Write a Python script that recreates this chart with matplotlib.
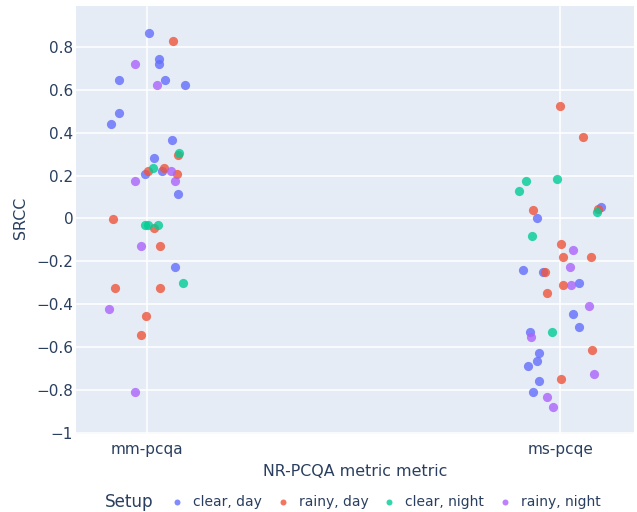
import matplotlib.pyplot as plt

# SRCC values per metric and setup
metrics = ["mm-pcqa", "ms-pcqe"]
setups = ["clear, day", "rainy, day", "clear, night", "rainy, night"]
colors = ["#636efa", "#EF553B", "#00cc96", "#ab63fa"]

mm_clear_day = [0.863, 0.743, 0.718, 0.645, 0.645, 0.620, 0.489, 0.439, 0.367, 0.283, 0.221, 0.209, 0.113, -0.225]
mm_rainy_day = [0.826, 0.296, 0.235, 0.221, 0.209, -0.004, -0.045, -0.130, -0.323, -0.323, -0.456, -0.541]
mm_clear_night = [0.307, 0.235, -0.032, -0.032, -0.032, -0.298]
mm_rainy_night = [0.718, 0.620, 0.221, 0.173, 0.173, -0.130, -0.419, -0.807]

ms_clear_day = [0.053, 0.003, -0.238, -0.249, -0.298, -0.443, -0.505, -0.527, -0.624, -0.661, -0.685, -0.757, -0.807]
ms_rainy_day = [0.525, 0.379, 0.044, 0.040, -0.117, -0.178, -0.178, -0.249, -0.310, -0.346, -0.612, -0.745]
ms_clear_night = [0.186, 0.173, 0.126, 0.028, -0.080, -0.527]
ms_rainy_night = [-0.148, -0.225, -0.310, -0.408, -0.551, -0.722, -0.830, -0.879]

# strip jitter (category units)
mm_jit_clear_day = [0.004, 0.028, 0.029, -0.068, 0.044, 0.093, -0.067, -0.088, 0.060, 0.016, 0.036, -0.006, 0.076, 0.067]
mm_jit_rainy_day = [0.063, 0.075, 0.041, 0.003, 0.073, -0.083, 0.016, 0.032, -0.077, 0.031, -0.003, -0.014]
mm_jit_clear_night = [0.077, 0.014, -0.005, 0.003, 0.026, 0.088]
mm_jit_rainy_night = [-0.028, 0.024, 0.057, -0.028, 0.067, -0.014, -0.093, -0.030]

ms_jit_clear_day = [0.099, -0.055, -0.090, -0.042, 0.047, 0.031, 0.045, -0.074, -0.052, -0.056, -0.078, -0.052, -0.065]
ms_jit_rainy_day = [0.000, 0.056, 0.091, -0.065, 0.002, 0.007, 0.075, -0.037, 0.008, -0.032, 0.077, 0.002]
ms_jit_clear_night = [-0.008, -0.082, -0.099, 0.090, -0.069, -0.019]
ms_jit_rainy_night = [0.031, 0.024, 0.027, 0.070, -0.071, 0.083, -0.031, -0.016]

mm_vals = [mm_clear_day, mm_rainy_day, mm_clear_night, mm_rainy_night]
ms_vals = [ms_clear_day, ms_rainy_day, ms_clear_night, ms_rainy_night]
mm_jit = [mm_jit_clear_day, mm_jit_rainy_day, mm_jit_clear_night, mm_jit_rainy_night]
ms_jit = [ms_jit_clear_day, ms_jit_rainy_day, ms_jit_clear_night, ms_jit_rainy_night]

txt = "#2a3f5f"
plt.rcParams['font.family'] = ['DejaVu Sans']

W, H = 637, 512
fig = plt.figure(figsize=(W / 100, H / 100), dpi=100)
ax = fig.add_axes([76 / W, 1 - 434 / H, 558 / W, 428 / H])
ax.set_facecolor("#E5ECF6")

for i, setup in enumerate(setups):
    xs = [0 + j for j in mm_jit[i]] + [1 + j for j in ms_jit[i]]
    ys = mm_vals[i] + ms_vals[i]
    ax.scatter(xs, ys, s=44, color=colors[i], alpha=0.8, linewidths=0,
               label=setup, zorder=3)

ax.set_xlim(-0.172, 1.179)
ax.set_ylim(-1.003, 0.989)
ax.set_xticks([0, 1])
ax.set_xticklabels(metrics)
yt = [0.8, 0.6, 0.4, 0.2, 0, -0.2, -0.4, -0.6, -0.8, -1]
ax.set_yticks(yt)
ax.set_yticklabels(["0.8", "0.6", "0.4", "0.2", "0", "\u22120.2", "\u22120.4", "\u22120.6", "\u22120.8", "\u22121"])
ax.grid(True, color="white", linewidth=1.1, zorder=0)
ax.set_axisbelow(True)
for sp in ax.spines.values():
    sp.set_visible(False)
ax.tick_params(length=0, labelsize=11, colors=txt)
ax.tick_params(axis='y', pad=2)
ax.tick_params(axis='x', pad=6)

ax.set_xlabel("NR-PCQA metric metric", fontsize=11.4, color=txt, va="center")
ax.xaxis.set_label_coords(0.5, -(472 - 434) / 428)
ax.set_ylabel("SRCC", fontsize=11.4, color=txt, va="center")
ax.yaxis.set_label_coords(-(76 - 20) / 558, 1 - (218 - 6) / 428)

# legend: title on the left, items in one row
fig.text(105 / W, 1 - 502 / H, "Setup", fontsize=12.1, color=txt, va="center", ha="left")
leg = fig.legend(loc="center left", bbox_to_anchor=(170 / W, 1 - 502 / H), ncol=4, frameon=False,
                 fontsize=10, handletextpad=0.65, columnspacing=1.0, markerscale=0.65,
                 handlelength=1.0, borderaxespad=0, borderpad=0)
for t in leg.get_texts():
    t.set_color(txt)

fig.savefig("out.png", dpi=100)
